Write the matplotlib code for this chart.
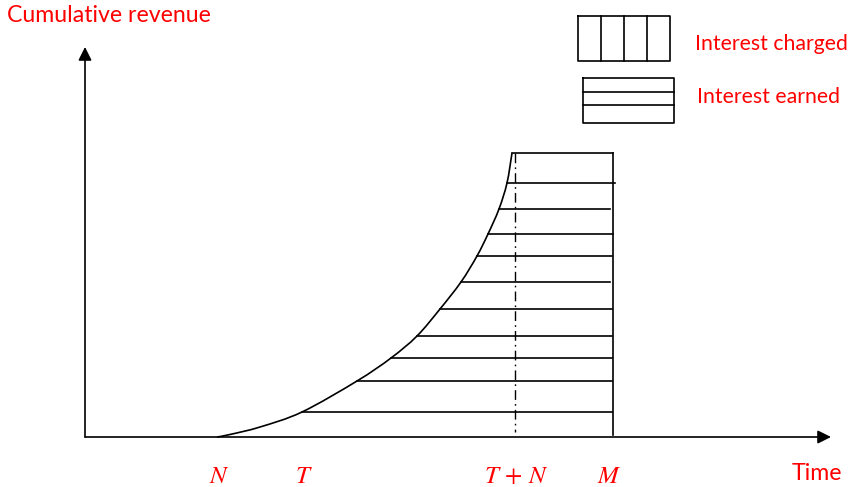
import numpy as np
import matplotlib.pyplot as plt
from matplotlib.path import Path
from matplotlib.patches import PathPatch

# schematic in image units (x: time to the right, y: revenue downward in px)
origin = (85, 437)
x_axis_end = 831
y_axis_end = 47

curve_x = [217, 230, 260, 302, 357, 391, 417, 440, 461, 477, 488, 499, 507, 512]
curve_y = [437, 434.5, 427, 412, 381, 358, 336, 309, 282, 256, 234, 209, 183, 153]

hatch_y = [153, 183, 209, 234, 256, 282, 309, 336, 358, 381, 412]
hatch_left = [512, 507, 499, 488, 477, 461, 440, 417, 391, 357, 302]
hatch_right = [613, 615, 610, 613, 612, 610, 612, 612, 612, 612, 612]

t_plus_n = 515
m_time = 613
top_level = 153

tick_pos = [219, 304, 516, 609]
tick_labels = [r"$N$", r"$T$", r"$T\,+\,N$", r"$M$"]

charged_box = (578, 16, 670, 61)
charged_dividers = [601, 624, 647]
earned_box = (583, 78, 674, 123)
earned_dividers = [92, 105]

RED = "#ff0000"
LW = 1.2


def smooth_path(xs, ys):
    # Catmull-Rom through the read points, as cubic bezier segments
    pts = np.column_stack([xs, ys]).astype(float)
    ext = np.vstack([pts[0], pts, pts[-1]])
    verts = [pts[0]]
    codes = [Path.MOVETO]
    for i in range(1, len(ext) - 2):
        p0, p1, p2, p3 = ext[i - 1], ext[i], ext[i + 1], ext[i + 2]
        verts += [p1 + (p2 - p0) / 6, p2 - (p3 - p1) / 6, p2]
        codes += [Path.CURVE4] * 3
    return Path(verts, codes)


plt.rcParams["mathtext.fontset"] = "stix"
fig = plt.figure(figsize=(8.53, 4.87), dpi=100)
ax = fig.add_axes([0, 0, 1, 1])
ax.set_xlim(0, 853)
ax.set_ylim(487, 0)
ax.axis("off")

arrow = dict(arrowstyle="-|>", lw=LW, color="black", mutation_scale=20,
             shrinkA=0, shrinkB=0)
ax.annotate("", xy=(x_axis_end, origin[1]), xytext=origin, arrowprops=arrow)
ax.annotate("", xy=(origin[0], y_axis_end), xytext=origin, arrowprops=arrow)

ax.add_patch(PathPatch(smooth_path(curve_x, curve_y), facecolor="none",
                       edgecolor="black", lw=LW))
for y, x0, x1 in zip(hatch_y, hatch_left, hatch_right):
    ax.plot([x0, x1], [y, y], color="black", lw=LW)
ax.plot([m_time, m_time], [top_level, origin[1] - 2], color="black", lw=LW)
ax.plot([t_plus_n, t_plus_n], [top_level, origin[1] - 5], color="black", lw=1.0,
        linestyle=(0, (7, 3, 1.2, 3)))

for x, lab in zip(tick_pos, tick_labels):
    ax.text(x, 476, lab, color=RED, fontsize=18, ha="center", va="center")

ax.text(7, 16, "Cumulative revenue", color=RED, fontsize=16.7, family="Lato",
        ha="left", va="center")
ax.text(792, 473, "Time", color=RED, fontsize=16.7, family="Lato",
        ha="left", va="center")

x0, y0, x1, y1 = charged_box
ax.plot([x0, x1, x1, x0, x0], [y0, y0, y1, y1, y0], color="black", lw=LW)
for x in charged_dividers:
    ax.plot([x, x], [y0, y1], color="black", lw=LW)
ax.text(695, 44, "Interest charged", color=RED, fontsize=15.3, family="Lato",
        ha="left", va="center")

x0, y0, x1, y1 = earned_box
ax.plot([x0, x1, x1, x0, x0], [y0, y0, y1, y1, y0], color="black", lw=LW)
for y in earned_dividers:
    ax.plot([x0, x1], [y, y], color="black", lw=LW)
ax.text(697, 97, "Interest earned", color=RED, fontsize=15.3, family="Lato",
        ha="left", va="center")

fig.savefig("out.png", dpi=100)
